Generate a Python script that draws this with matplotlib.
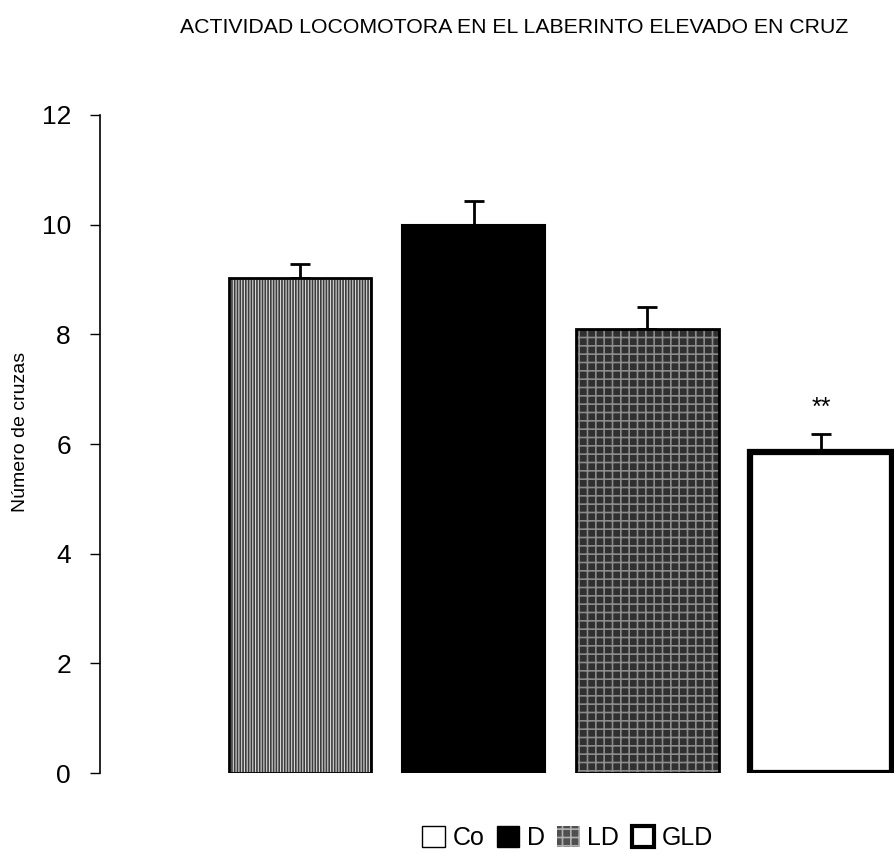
import matplotlib
matplotlib.use('Agg')
import matplotlib.pyplot as plt
from matplotlib.patches import Patch

plt.rcParams['font.family'] = ['Liberation Sans', 'DejaVu Sans']
plt.rcParams['hatch.linewidth'] = 1.2

# Locomotor activity in the elevated plus maze
groups = ['Co', 'D', 'LD', 'GLD']
means = [9.02, 10.0, 8.09, 5.85]
errs = [0.27, 0.44, 0.40, 0.34]
marks = ['', '', '', '**']

fig = plt.figure(figsize=(8.94, 8.55), dpi=100)
ax = fig.add_axes([0.112, 0.0959, 0.888, 0.7696])

x = list(range(len(groups)))
width = 0.82

# fills: striped, solid black, mottled grey, plain white
ax.bar(x[0], means[0], width, color='#d8d8d8', edgecolor='#3c3c3c',
       hatch='||||||', linewidth=0, zorder=2)
ax.bar(x[0], means[0], width, fill=False, edgecolor='black', linewidth=2, zorder=3)
ax.bar(x[1], means[1], width, color='black', edgecolor='black', linewidth=1.5, zorder=2)
ax.bar(x[2], means[2], width, color='#303030', edgecolor='#8c8c8c',
       hatch='++', linewidth=0, zorder=2)
ax.bar(x[2], means[2], width, fill=False, edgecolor='black', linewidth=2, zorder=3)
ax.bar(x[3], means[3], width, color='white', edgecolor='black', linewidth=4.5, zorder=2)

ax.errorbar(x, means, yerr=[[0] * len(errs), errs], fmt='none', ecolor='black',
            elinewidth=2, capsize=7, capthick=2, zorder=1)

for i, m in enumerate(marks):
    if m:
        ax.text(x[i], means[i] + errs[i] + 0.25, m, ha='center', va='bottom', fontsize=18)

ax.set_ylim(0, 12)
ax.set_xlim(-1.149, 3.42)
ax.set_yticks(range(0, 13, 2))
ax.tick_params(axis='y', direction='out', length=7, width=1, pad=14, labelsize=19)
ax.set_xticks([])
for side in ['top', 'right', 'bottom']:
    ax.spines[side].set_visible(False)
ax.spines['left'].set_linewidth(1.2)

fig.text(0.013, 0.495, 'Número de cruzas', rotation=90, ha='left', va='center', fontsize=14)
fig.text(0.575, 0.968, 'ACTIVIDAD LOCOMOTORA EN EL LABERINTO ELEVADO EN CRUZ',
         ha='center', va='center', fontsize=15.3)

handles = [
    Patch(facecolor='white', edgecolor='black', linewidth=1),
    Patch(facecolor='black', edgecolor='black'),
    Patch(facecolor='#505050', edgecolor='#b0b0b0', hatch='++', linewidth=0),
    Patch(facecolor='white', edgecolor='black', linewidth=3),
]
fig.legend(handles, groups, loc='center', bbox_to_anchor=(0.635, 0.02), ncol=4,
           frameon=False, fontsize=18, handlelength=0.9, handleheight=0.9,
           handletextpad=0.3, columnspacing=0.5, borderpad=0)

fig.savefig('out.png', dpi=100)
